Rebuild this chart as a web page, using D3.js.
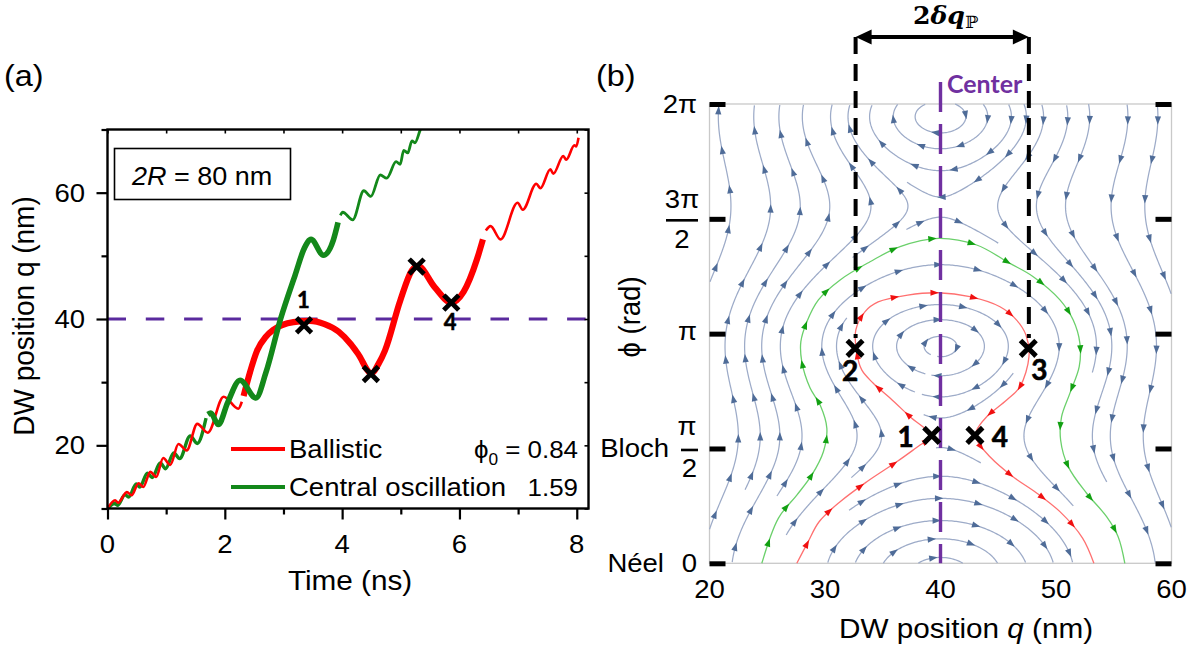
<!DOCTYPE html>
<html><head><meta charset="utf-8">
<script src="https://cdn.jsdelivr.net/npm/d3@7/dist/d3.min.js"></script>
<style>html,body{margin:0;padding:0;background:#fff;} svg{display:block;}</style>
</head><body>
<svg id="chart" width="1201" height="656" xmlns="http://www.w3.org/2000/svg"></svg>
<script>
// ================= DATA : panel (a) =================
const timeTicks = [0, 2, 4, 6, 8];
const timeMinorTicks = [1, 3, 5, 7];
const timeTopTicks = [0, 1, 2, 3, 4, 5, 6, 7, 8];
const posTicks = [20, 40, 60];
const posMinorTicks = [10, 30, 50, 70];
const posRightTicks = [10, 20, 30, 40, 50, 60, 70];
const centerLevel = 40;

// [time ns, DW position nm] (peaks / troughs of the oscillations)
const ballisticEarly = [[0,10.0],[0.13,11.3],[0.18,10.9],[0.33,12.6],[0.41,12.1],[0.53,14.0],[0.61,13.4],[0.73,15.8],[0.83,15.0],[0.95,18.0],[1.07,16.9],[1.21,20.2],[1.35,19.2],[1.53,23.4],[1.71,22.0],[1.98,27.7],[2.23,25.8],[2.29,26.9]];
const ballisticThick = [[2.32,27.8],[2.43,31.6],[2.55,35.0],[2.70,37.2],[2.83,38.3],[3.17,39.5],[3.45,39.7],[3.70,39.2],[3.94,38.0],[4.15,36.0],[4.27,34.5],[4.50,31.4],[4.62,32.9],[4.73,35.0],[4.99,42.9],[5.19,47.7],[5.29,48.4],[5.58,45.0],[5.86,42.6],[6.07,44.3],[6.30,49.5],[6.40,52.6]];
const ballisticLate = [[6.45,54.0],[6.53,54.7],[6.70,52.6],[6.99,58.4],[7.08,57.3],[7.31,61.4],[7.38,60.7],[7.55,63.7],[7.60,63.0],[7.77,65.8],[7.82,65.2],[7.96,67.5],[7.99,67.3],[8.03,68.7]];
const centralEarly = [[0,10.0],[0.12,10.8],[0.17,10.5],[0.30,12.2],[0.36,11.8],[0.49,13.9],[0.55,13.4],[0.68,15.6],[0.76,14.9],[0.90,17.2],[0.99,16.3],[1.13,18.8],[1.23,17.9],[1.41,21.5],[1.53,20.3],[1.68,24.3]];
const centralThick = [[1.71,24.9],[1.76,25.1],[1.89,23.3],[2.05,26.8],[2.26,30.3],[2.53,27.5],[2.70,31.5],[2.95,40.0],[3.20,47.0],[3.36,51.3],[3.47,52.6],[3.68,50.1],[3.85,52.5],[3.93,55.3]];
const centralLate = [[3.97,56.4],[4.01,56.9],[4.18,55.7],[4.37,60.3],[4.49,59.4],[4.65,62.8],[4.76,62.3],[4.92,64.9],[4.99,64.5],[5.05,66.7],[5.12,66.3],[5.19,68.2],[5.24,67.9],[5.33,69.9],[5.38,71.0]];
const markersA = [[3.35,39.0],[4.49,31.3],[5.27,48.3],[5.86,42.6]];
const markerLabelsA = [{t:3.34,q:41.7,text:'1'},{t:5.84,q:38.3,text:'4'}];
const legendNames = ['Ballistic', 'Central oscillation'];
const phi0Values = ['0.84', '1.59'];

// ================= DATA : panel (b) =================
const qTicks = [20, 30, 40, 50, 60];
const phiTicksPi = [0, 0.5, 1, 1.5, 2];           // in units of pi
const phiTickLabels = [
  {v:0,   num:'0',  pre:'Néel'},
  {v:0.5, num:'π',  den:'2', pre:'Bloch'},
  {v:1,   num:'π'},
  {v:1.5, num:'3π', den:'2'},
  {v:2,   num:'2π'}
];
// flow-field parameters of the stream plot (read from fixed points / separatrix of the figure)
const wellCenter = 40;      // nm, pinning centre
const wellStrength = 56;    // nm^2 (ratio of anisotropy term to pinning stiffness)
const driveRatio = 0.34;    // shift of the fixed points
const wellStiffening = 800; // nm^2
// highlighted trajectories [q nm, phi/pi]
const ballisticPath = [[27.56,0],[28.5,0.09],[29.49,0.181],[31.31,0.268],[33.62,0.355],[36.21,0.442],[38.23,0.515],[39.24,0.551],[37.36,0.638],[35.63,0.720],[34.16,0.785],[33.18,0.842],[32.75,0.916],[32.67,1.016],[33.47,1.096],[34.60,1.138],[37.16,1.168],[39.81,1.178],[42.55,1.161],[45.15,1.117],[46.59,1.059],[47.40,0.994],[47.66,0.900],[46.88,0.769],[45.73,0.711],[44.0,0.638],[43.13,0.578],[43.15,0.537],[44.28,0.464],[46.27,0.377],[48.32,0.306],[50.34,0.225],[52.3,0.11],[53.28,0]];
const centralPath = [[24.53,0],[25.97,0.197],[27.56,0.297],[28.86,0.385],[29.86,0.486],[30.16,0.588],[29.58,0.689],[28.71,0.763],[27.99,0.878],[27.91,0.965],[28.43,1.052],[29.43,1.147],[31.31,1.234],[33.90,1.313],[36.50,1.379],[39.81,1.415],[43.13,1.386],[46.01,1.306],[48.03,1.248],[50.34,1.147],[51.49,1.059],[52.07,0.958],[52.01,0.856],[51.20,0.740],[50.48,0.638],[50.40,0.537],[51.06,0.421],[52.65,0.305],[54.38,0.203],[55.38,0.116],[55.96,0]];
const markersB = [{q:39.24,p:0.557,label:'1',dx:-26,dy:12},{q:32.6,p:0.936,label:'2',dx:-5,dy:33},{q:47.6,p:0.936,label:'3',dx:11,dy:32},{q:42.98,p:0.557,label:'4',dx:25,dy:12}];
const deltaBounds = [32.65, 47.65];

// ================= helpers =================
const svg = d3.select('#chart');
const SX = 1.08;
const SANS = "'Liberation Sans', Arial, Helvetica, sans-serif";
const CAL = "Lato, 'Open Sans', 'DejaVu Sans', sans-serif";
const RED = '#FF0000', GREEN = '#13881A', PURPLE_A = '#5A2A9E', PURPLE_B = '#7030A0';
function txt(g, x, y, s, o = {}) {
  let tf = `translate(${x},${y}) scale(${o.sx ?? SX},1)`;
  if (o.rot) tf += ` rotate(${o.rot})`;
  const t = g.append('text').attr('transform', tf)
    .attr('text-anchor', o.anchor || 'start')
    .attr('font-family', o.font || SANS)
    .attr('font-size', o.size || 25.5)
    .attr('font-weight', o.weight || 'normal')
    .attr('font-style', o.style || 'normal')
    .attr('fill', o.fill || '#000');
  if (o.stroke) t.attr('stroke', o.fill || '#000').attr('stroke-width', o.stroke);
  if (Array.isArray(s)) {
    s.forEach(part => { const sp = t.append('tspan').text(part.t); for (const k in part) if (k !== 't') sp.attr(k, part[k]); });
  } else t.text(s);
  return t;
}
function cross(g, x, y, r, w) {
  g.append('path').attr('d', `M${x-r},${y-r}L${x+r},${y+r}M${x-r},${y+r}L${x+r},${y-r}`)
    .attr('stroke', '#000').attr('stroke-width', w).attr('fill', 'none').attr('stroke-linecap', 'square');
}
function styleAxis(sel, w) {
  sel.select('.domain').remove();
  sel.selectAll('.tick line').attr('stroke', '#000').attr('stroke-width', w);
  sel.selectAll('.tick text').remove();
}

// ================= PANEL (a) =================
const gA = svg.append('g');
const xA = d3.scaleLinear().domain([0, 8.2]).range([107.5, 588.5]);
const yA = d3.scaleLinear().domain([10, 70]).range([508.5, 129.5]);
gA.append('clipPath').attr('id', 'clipA').append('rect')
  .attr('x', xA(0)).attr('y', yA(70)).attr('width', xA(8.2) - xA(0)).attr('height', yA(10) - yA(70));

txt(gA, 4, 86, '(a)', {size: 30});

// box
gA.append('rect').attr('x', 114.5).attr('y', 148.5).attr('width', 176).attr('height', 51)
  .attr('fill', '#fff').attr('stroke', '#000').attr('stroke-width', 1.6);
txt(gA, 132, 185, [{t:'2R', 'font-style':'italic'}, {t:' = 80 nm'}], {size: 25});

// center level
gA.append('line').attr('x1', xA(0)).attr('x2', xA(8.2)).attr('y1', yA(centerLevel)).attr('y2', yA(centerLevel))
  .attr('stroke', PURPLE_A).attr('stroke-width', 3.2).attr('stroke-dasharray', '18.5,19.8');

const lineA = d3.line().x(d => xA(d[0])).y(d => yA(d[1])).curve(d3.curveMonotoneX);
const curvesA = gA.append('g').attr('clip-path', 'url(#clipA)');
function drawA(data, color, w) {
  curvesA.append('path').attr('d', lineA(data)).attr('fill', 'none').attr('stroke', color)
    .attr('stroke-width', w).attr('stroke-linejoin', 'round');
}
drawA(centralEarly, GREEN, 3.4);
drawA(ballisticEarly, RED, 2.6);
drawA(ballisticThick, RED, 6.2);
drawA(centralThick, GREEN, 5.6);
drawA(centralLate, GREEN, 2.8);
drawA(ballisticLate, RED, 2.6);

markersA.forEach(m => cross(gA, xA(m[0]), yA(m[1]), 5.8, 4.8));
markerLabelsA.forEach(m => txt(gA, xA(m.t), yA(m.q), m.text, {anchor:'middle', font: CAL, weight: 700, size: 22, sx: 1, stroke: 0.5}));

// legend
[RED, GREEN].forEach((c, i) => {
  const y = [449, 487][i];
  gA.append('line').attr('x1', 231).attr('x2', 285).attr('y1', y).attr('y2', y).attr('stroke', c).attr('stroke-width', 4);
  txt(gA, 289, y + 9, legendNames[i], {size: 25.5});
});
txt(gA, 578, 458, [{t:'ϕ'}, {t:'0', 'font-size': 16, dy: 7}, {t:' = ' + phi0Values[0], dy: -7}], {anchor:'end', size: 24});
txt(gA, 578, 496, phi0Values[1], {anchor:'end', size: 24});

// frame + axes
gA.append('rect').attr('x', xA(0)).attr('y', yA(70)).attr('width', xA(8.2) - xA(0)).attr('height', yA(10) - yA(70))
  .attr('fill', 'none').attr('stroke', '#000').attr('stroke-width', 2.4);
gA.append('g').attr('transform', `translate(0,${yA(10)})`).call(d3.axisBottom(xA).tickValues(timeTicks).tickSize(11)).call(s => styleAxis(s, 2.2));
gA.append('g').attr('transform', `translate(0,${yA(10)})`).call(d3.axisBottom(xA).tickValues(timeMinorTicks).tickSize(6)).call(s => styleAxis(s, 2.2));
gA.append('g').attr('transform', `translate(0,${yA(70)})`).call(d3.axisTop(xA).tickValues(timeTopTicks).tickSize(-4)).call(s => styleAxis(s, 1.6));
gA.append('g').attr('transform', `translate(${xA(0)},0)`).call(d3.axisLeft(yA).tickValues(posTicks).tickSize(11)).call(s => styleAxis(s, 2.2));
gA.append('g').attr('transform', `translate(${xA(0)},0)`).call(d3.axisLeft(yA).tickValues(posMinorTicks).tickSize(6)).call(s => styleAxis(s, 2.2));
gA.append('g').attr('transform', `translate(${xA(8.2)},0)`).call(d3.axisRight(yA).tickValues(posRightTicks).tickSize(-4)).call(s => styleAxis(s, 1.6));
timeTicks.forEach(v => txt(gA, xA(v), 553, String(v), {anchor: 'middle'}));
posTicks.forEach(v => txt(gA, 85, yA(v) + 9, String(v), {anchor: 'end'}));
txt(gA, 350, 590, 'Time (ns)', {anchor: 'middle', size: 27.5});
txt(gA, 34, 316, 'DW position q (nm)', {anchor: 'middle', size: 28, rot: -90});

// ================= PANEL (b) =================
const gB = svg.append('g');
const xB = d3.scaleLinear().domain([20, 60]).range([709.5, 1171.5]);
const yB = d3.scaleLinear().domain([0, 2]).range([563.3, 104]);
const kx = xB(1) - xB(0);
const kyRad = (yB(0) - yB(1)) / Math.PI;

txt(gB, 596, 86, '(b)', {size: 30});

gB.append('rect').attr('x', xB(20)).attr('y', yB(2)).attr('width', xB(60) - xB(20)).attr('height', yB(0) - yB(2))
  .attr('fill', 'none').attr('stroke', '#C9C9C9').attr('stroke-width', 1.3);

const gStream = gB.append('g');
const gStreamArrows = gB.append('g');
const gColored = gB.append('g');

function flowPx(px, py) {
  const q = xB.invert(px), ph = Math.PI * yB.invert(py);
  const x = q - wellCenter;
  const dq = wellStrength * (Math.sin(2 * ph) + driveRatio);
  const dph = -(x + x * x * x / wellStiffening);
  return [dq * kx, -dph * kyRad];
}

function arrowsAlong(g, pts, color, spacing, offset) {
  let total = 0;
  for (let i = 1; i < pts.length; i++) total += Math.hypot(pts[i][0] - pts[i-1][0], pts[i][1] - pts[i-1][1]);
  let acc = 0, next = offset;
  for (let i = 1; i < pts.length; i++) {
    const dx = pts[i][0] - pts[i-1][0], dy = pts[i][1] - pts[i-1][1];
    const seg = Math.hypot(dx, dy);
    if (seg === 0) continue;
    while (acc + seg >= next && next < total - 5) {
      const f = (next - acc) / seg;
      const x = pts[i-1][0] + dx * f, y = pts[i-1][1] + dy * f;
      const ux = dx / seg, uy = dy / seg;
      const L1 = 4.2, L2 = 4.2, W = 3.1;
      g.append('path').attr('d', `M${x + ux*L1},${y + uy*L1}L${x - ux*L2 - uy*W},${y - uy*L2 + ux*W}L${x - ux*L2 + uy*W},${y - uy*L2 - ux*W}Z`)
        .attr('fill', color);
      next += spacing;
    }
    acc += seg;
  }
}

// highlighted trajectories
const lineB = d3.line().x(d => xB(d[0])).y(d => yB(d[1])).curve(d3.curveCatmullRom.alpha(0.5));
const colored = [
  {data: centralPath, line: '#6BD06B', arrow: '#12A012'},
  {data: ballisticPath, line: '#FF7070', arrow: '#F01010'}
];
const coloredSamples = [];
colored.forEach(c => {
  const p = gColored.append('path').attr('d', lineB(c.data)).attr('fill', 'none').attr('stroke', c.line).attr('stroke-width', 1.3);
  const node = p.node(), L = node.getTotalLength();
  const pts = [];
  for (let s = 0; s <= L; s += 1.5) { const q = node.getPointAtLength(s); pts.push([q.x, q.y]); }
  coloredSamples.push(pts);
  arrowsAlong(gColored, pts, c.arrow, 40, 22);
});

// evenly spaced stream lines (Jobard-Lefer style) of the flow field
(function buildStreams() {
  const x0 = xB(20), x1 = xB(60), y0 = yB(2), y1 = yB(0);
  const h = 1.5;
  const dsepAt = p => { const q = Math.abs(xB.invert(p[0]) - wellCenter); return 19 + 11 * Math.min(1, q / 16); };
  const cs = 30;
  const nx = Math.ceil((x1 - x0) / cs) + 2, ny = Math.ceil((y1 - y0) / cs) + 2;
  const grid = Array.from({length: nx * ny}, () => []);
  const add = p => { const i = Math.floor((p[0] - x0) / cs), j = Math.floor((p[1] - y0) / cs); if (i >= 0 && j >= 0 && i < nx && j < ny) grid[j * nx + i].push(p); };
  const tooClose = (p, d) => {
    const i = Math.floor((p[0] - x0) / cs), j = Math.floor((p[1] - y0) / cs), d2 = d * d;
    for (let a = i - 1; a <= i + 1; a++) for (let b = j - 1; b <= j + 1; b++) {
      if (a < 0 || b < 0 || a >= nx || b >= ny) continue;
      const cell = grid[b * nx + a];
      for (let k = 0; k < cell.length; k++) { const dx = cell[k][0] - p[0], dy = cell[k][1] - p[1]; if (dx*dx + dy*dy < d2) return true; }
    }
    return false;
  };
  const inside = p => p[0] >= x0 && p[0] <= x1 && p[1] >= y0 && p[1] <= y1;
  const unit = (x, y) => { const v = flowPx(x, y); const m = Math.hypot(v[0], v[1]); return m < 14 ? null : [v[0] / m, v[1] / m]; };
  const rk = (p, s) => {
    const k1 = unit(p[0], p[1]); if (!k1) return null;
    const k2 = unit(p[0] + 0.5*s*k1[0], p[1] + 0.5*s*k1[1]); if (!k2) return null;
    const k3 = unit(p[0] + 0.5*s*k2[0], p[1] + 0.5*s*k2[1]); if (!k3) return null;
    const k4 = unit(p[0] + s*k3[0], p[1] + s*k3[1]); if (!k4) return null;
    return [p[0] + s*(k1[0] + 2*k2[0] + 2*k3[0] + k4[0]) / 6, p[1] + s*(k1[1] + 2*k2[1] + 2*k3[1] + k4[1]) / 6];
  };
  const trace = (seed, sgn, other) => {
    const pts = [];
    let p = seed;
    for (let n = 0; n < 2500; n++) {
      const np = rk(p, sgn * h);
      if (!np || !inside(np)) break;
      const dt = 0.5 * dsepAt(np);
      if (tooClose(np, dt)) break;
      const gap = Math.ceil(2.2 * dsepAt(np) / h);
      const d2 = (0.8 * dt) ** 2;
      let closed = false;
      if (n % 2 === 0) {
        for (let k = 0; k < pts.length - gap; k += 2) { const dx = pts[k][0] - np[0], dy = pts[k][1] - np[1]; if (dx*dx + dy*dy < d2) { closed = true; break; } }
        if (!closed && pts.length > gap) { const dx = seed[0] - np[0], dy = seed[1] - np[1]; if (dx*dx + dy*dy < d2) closed = true; }
        if (!closed) for (let k = gap; k < other.length; k += 2) { const dx = other[k][0] - np[0], dy = other[k][1] - np[1]; if (dx*dx + dy*dy < d2) { closed = true; break; } }
      }
      if (closed) break;
      pts.push(np); p = np;
    }
    return pts;
  };
  const lines = [], queue = [];
  coloredSamples.forEach(L => { L.forEach(add); queue.push(L); });
  const trySeed = s => {
    if (!inside(s) || tooClose(s, 0.97 * dsepAt(s)) || !unit(s[0], s[1])) return;
    const f = trace(s, 1, []);
    const b = trace(s, -1, f);
    const line = b.reverse().concat([s], f);
    if (line.length * h < 28) return;
    line.forEach(add); lines.push(line); queue.push(line);
  };
  let gridDone = false;
  while (queue.length || !gridDone) {
    if (!queue.length) {
      gridDone = true;
      for (let y = y0 + 6; y < y1; y += 9) for (let x = x0 + 6; x < x1; x += 9) trySeed([x, y]);
      continue;
    }
    const L = queue.shift();
    for (let k = 0; k < L.length; k += 5) {
      const a = L[Math.max(0, k - 1)], c = L[Math.min(L.length - 1, k + 1)], p = L[k];
      let tx = c[0] - a[0], ty = c[1] - a[1]; const m = Math.hypot(tx, ty); if (!m) continue;
      tx /= m; ty /= m;
      const d = dsepAt(p);
      trySeed([p[0] - ty * d, p[1] + tx * d]);
      trySeed([p[0] + ty * d, p[1] - tx * d]);
    }
  }
  const ln = d3.line();
  lines.forEach(L => {
    gStream.append('path').attr('d', ln(L)).attr('fill', 'none').attr('stroke', '#9DABC8').attr('stroke-width', 1.25);
    arrowsAlong(gStreamArrows, L, '#4F6C98', 40, 16);
  });
})();

// centre line
gB.append('line').attr('x1', xB(wellCenter)).attr('x2', xB(wellCenter)).attr('y1', 82).attr('y2', yB(0))
  .attr('stroke', PURPLE_B).attr('stroke-width', 3.4).attr('stroke-dasharray', '30,12');
txt(gB, 947, 93, 'Center', {font: CAL, weight: 700, size: 24, fill: PURPLE_B, sx: 1.04});

// 2 delta q bounds
deltaBounds.forEach(q => {
  gB.append('line').attr('x1', xB(q)).attr('x2', xB(q)).attr('y1', 37).attr('y2', 338)
    .attr('stroke', '#000').attr('stroke-width', 4).attr('stroke-dasharray', '17,10');
});
const ax1 = xB(deltaBounds[0]), ax2 = xB(deltaBounds[1]), ay = 37;
gB.append('line').attr('x1', ax1 + 10).attr('x2', ax2 - 10).attr('y1', ay).attr('y2', ay).attr('stroke', '#000').attr('stroke-width', 4);
gB.append('path').attr('d', `M${ax1},${ay}L${ax1 + 16},${ay - 7.5}L${ax1 + 16},${ay + 7.5}Z M${ax2},${ay}L${ax2 - 16},${ay - 7.5}L${ax2 - 16},${ay + 7.5}Z`).attr('fill', '#000');
txt(gB, 913, 24, [{t:'2', 'font-weight': 700}, {t:'δq', 'font-weight': 700, 'font-style': 'italic'}, {t:'ℙ', 'font-size': 17, dy: 4}],
  {font: "'DejaVu Serif', 'Liberation Serif', serif", size: 24, sx: 1.05});

// markers
markersB.forEach(m => {
  const x = xB(m.q), y = yB(m.p);
  cross(gB, x, y, 6, 5);
  txt(gB, x + m.dx, y + m.dy, m.label, {anchor: 'middle', font: CAL, weight: 700, size: 28, sx: 1, stroke: 0.6});
});

// tick bars
gB.append('g').attr('transform', `translate(${xB(20)},0)`).call(d3.axisLeft(yB).tickValues(phiTicksPi).tickSize(-16)).call(s => styleAxis(s, 5));
gB.append('g').attr('transform', `translate(${xB(60)},0)`).call(d3.axisRight(yB).tickValues(phiTicksPi).tickSize(-16)).call(s => styleAxis(s, 5));
gB.append('g').attr('transform', `translate(0,${yB(0)})`).call(d3.axisBottom(xB).tickValues(qTicks).tickSize(0)).call(s => styleAxis(s, 0));

// tick labels
qTicks.forEach(v => txt(gB, xB(v), 598, String(v), {anchor: 'middle'}));
phiTickLabels.forEach(t => {
  const y = yB(t.v);
  if (t.den) {
    const cx = t.num.length > 1 ? 682 : 687;
    const bw = t.num.length > 1 ? 32 : 17;
    txt(gB, cx, y - (t.num.length > 1 ? 11 : 13.5), t.num, {anchor: 'middle'});
    gB.append('line').attr('x1', 698 - bw).attr('x2', 698).attr('y1', y + 1.5).attr('y2', y + 1.5).attr('stroke', '#000').attr('stroke-width', 2.6);
    txt(gB, 698 - bw / 2, y + 29, t.den, {anchor: 'middle'});
  } else {
    txt(gB, 697, y + (t.num === 'π' ? 6 : 9), t.num, {anchor: 'end'});
  }
  if (t.pre) txt(gB, t.pre === 'Bloch' ? 669 : 664, t.pre === 'Bloch' ? 457 : 572, t.pre, {anchor: 'end'});
});
txt(gB, 966, 638, [{t:'DW position '}, {t:'q', 'font-style':'italic'}, {t:' (nm)'}], {anchor: 'middle', size: 27.5});
txt(gB, 640, 317, 'ϕ (rad)', {anchor: 'middle', size: 27.5, rot: -90});
</script>
</body></html>
